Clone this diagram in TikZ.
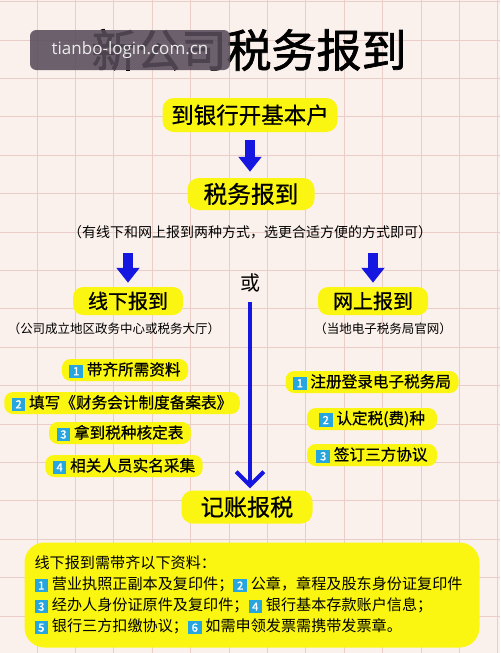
\documentclass[tikz,border=0pt]{standalone}
\usepackage{fontspec}
\setmainfont{Noto Sans CJK SC}
\newfontfamily\heavyfont{Noto Sans CJK SC}[FakeBold=1.5]
\newfontfamily\boxfont{Noto Sans CJK SC}[FakeBold=0.7]
\newfontfamily\markfont{Open Sans}
\usepackage{tikz}
\usetikzlibrary{arrows.meta}
\definecolor{paper}{RGB}{251,241,236}
\definecolor{gridred}{RGB}{234,204,200}
\definecolor{marker}{RGB}{250,246,18}
\definecolor{arrowblue}{RGB}{22,22,225}
\definecolor{numblue}{RGB}{38,165,222}
\definecolor{markgray}{RGB}{88,76,90}
\newcommand{\numbox}[1]{{\setlength{\fboxsep}{1.2pt}\colorbox{numblue}{\makebox[8.5pt]{\rule[-0.8pt]{0pt}{8.2pt}\color{white}\heavyfont\fontsize{9pt}{9pt}\selectfont #1}}}\kern3pt}
\tikzset{
x=0.8pt, y=-0.8pt, % one unit is one pixel of the sheet, y runs down
gridline/.style={draw=gridred, line width=0.6pt}, % lines of the squared paper
hl/.style={fill=marker, rounded corners=9pt, inner sep=0pt}, % yellow marker box
stepitem/.style={fill=marker, rounded corners=7pt, inner xsep=6pt, inner ysep=0pt, minimum height=17.6pt, font=\boxfont\fontsize{12.5pt}{12.5pt}\selectfont}, % one step of a list
remark/.style={inner sep=0pt, font=\fontsize{10pt}{10pt}\selectfont}, % small text in brackets
blockarrow/.style={draw=arrowblue, line width=8pt, -{Triangle[length=12pt, width=18pt]}}, % short fat arrow
longarrow/.style={draw=arrowblue, line width=3.2pt, -{Straight Barb[length=11pt, width=22pt]}}, % long arrow in the middle
}

\begin{document}
\begin{tikzpicture}
  \useasboundingbox (0,0) rectangle (500,653);
  \fill[paper] (0,0) rectangle (500,653);
  % squared paper
  \foreach \gx in {0,...,13}
    \draw[gridline] (38.4*\gx-1.5,0) -- (38.4*\gx-1.5,653);
  \foreach \gy in {0,...,17}
    \draw[gridline] (0,38.4*\gy+1.6) -- (500,38.4*\gy+1.6);

  \node[inner sep=0pt, font=\heavyfont\fontsize{36pt}{36pt}\selectfont] (title) at (249,50) {新公司税务报到};
  \node[fill=markgray, fill opacity=0.88, text opacity=1, text=white!92!black, rounded corners=5pt, minimum width=160pt, minimum height=32pt, font=\markfont\fontsize{13.6pt}{13.6pt}\selectfont] (mark) at (130,50) {tianbo-login.com.cn};

  \node[hl, font=\boxfont\fontsize{18pt}{18pt}\selectfont, minimum width=140pt, minimum height=27.2pt] (bank) at (250,115) {到银行开基本户};
  \node[hl, font=\boxfont\fontsize{19pt}{19pt}\selectfont, minimum width=101.6pt, minimum height=25.6pt] (tax) at (251,194) {税务报到};
  \node[inner sep=0pt, font=\fontsize{11.2pt}{11.2pt}\selectfont] (note) at (250,232) {（有线下和网上报到两种方式，选更合适方便的方式即可）};

  \node[inner sep=0pt, font=\fontsize{16pt}{16pt}\selectfont] (or) at (250,283) {或};
  \node[hl, rounded corners=8pt, font=\boxfont\fontsize{16pt}{16pt}\selectfont, minimum width=88pt, minimum height=22.4pt] (offline) at (128,301) {线下报到};
  \node[hl, rounded corners=8pt, font=\boxfont\fontsize{16pt}{16pt}\selectfont, minimum width=88pt, minimum height=22.4pt] (online) at (373,301) {网上报到};
  \node[remark] (offnote) at (114,329) {（公司成立地区政务中心或税务大厅）};
  \node[remark] (onnote) at (383,329) {（当地电子税务局官网）};
  \coordinate (offtop) at (128,253);
  \coordinate (ontop) at (373,253);

  % offline steps
  \node[stepitem] (off1) at (125,370) {\numbox{1}带齐所需资料};
  \node[stepitem] (off2) at (122,403) {\numbox{2}填写《财务会计制度备案表》};
  \node[stepitem] (off3) at (120,433) {\numbox{3}拿到税种核定表};
  \node[stepitem] (off4) at (124,466) {\numbox{4}相关人员实名采集};
  % online steps
  \node[stepitem] (on1) at (372,382) {\numbox{1}注册登录电子税务局};
  \node[stepitem, minimum width=104pt] (on2) at (372,419) {\numbox{2}认定税(费)种};
  \node[stepitem, minimum width=104pt] (on3) at (372,455) {\numbox{3}签订三方协议};

  \node[hl, font=\boxfont\fontsize{18.5pt}{18.5pt}\selectfont, minimum width=104.8pt, minimum height=26.4pt] (book) at (247,507) {记账报税};
  \node[hl, rounded corners=16pt, minimum width=364pt, minimum height=84pt, text width=348pt, align=left, font=\fontsize{12.1pt}{16.8pt}\selectfont] (list) at (252,595)
    {线下报到需带齐以下资料：\\
     \numbox{1}营业执照正副本及复印件；\numbox{2}公章，章程及股东身份证复印件\\
     \numbox{3}经办人身份证原件及复印件；\numbox{4}银行基本存款账户信息；\\
     \numbox{5}银行三方扣缴协议；\numbox{6}如需申领发票需携带发票章。};

  \draw[blockarrow, shorten <=6.4pt, shorten >=4.8pt] (bank) -- (bank |- tax.north);
  \draw[blockarrow, shorten >=3.2pt] (offtop) -- (offline);
  \draw[blockarrow, shorten >=3.2pt] (ontop) -- (online);
  \draw[longarrow, shorten <=8pt, shorten >=1.6pt] (or) -- (or |- book.north);
\end{tikzpicture}
\end{document}
